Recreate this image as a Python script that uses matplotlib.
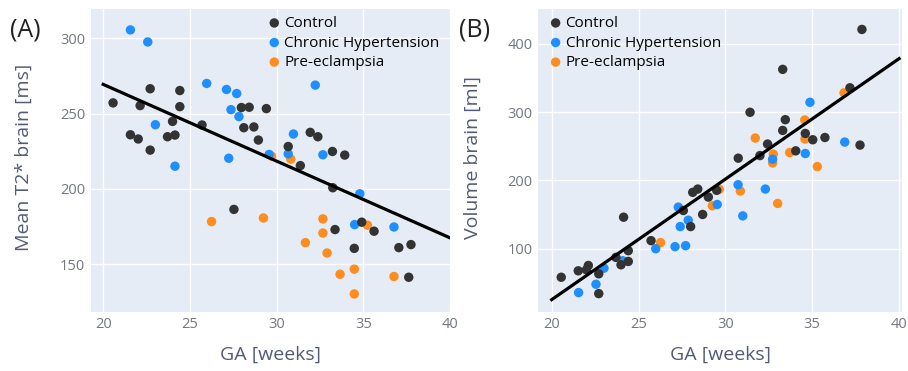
import matplotlib.pyplot as plt

plt.rcParams['font.family'] = ['Open Sans', 'DejaVu Sans']

# --- данные, панель (A): T2* мозга ---
ctrl_ga_a = [20.57, 21.57, 22.02, 22.13, 22.71, 22.71, 23.71, 24.0, 24.14, 24.42, 24.42,
             25.70, 27.54, 27.97, 28.42, 28.11, 28.69, 28.95, 29.41, 30.67, 31.37, 31.94,
             32.38, 33.22, 33.93, 33.24, 33.37, 34.48, 34.91, 35.62, 37.05, 37.75, 37.62]
ctrl_t2 = [257.2, 236.0, 233.2, 255.4, 266.6, 225.8, 234.7, 244.9, 235.8, 265.4, 254.7,
           242.5, 186.4, 254.1, 254.3, 240.7, 241.2, 232.5, 253.4, 228.2, 215.5, 237.6,
           234.7, 224.9, 222.5, 200.8, 173.0, 160.5, 177.9, 171.9, 161.0, 163.0, 141.3]

chtn_ga_a = [21.57, 22.57, 23.01, 24.14, 25.97, 27.11, 27.70, 27.37, 27.83, 27.24,
             29.57, 30.97, 30.67, 32.23, 32.67, 34.80, 34.50, 36.77]
chtn_t2 = [305.7, 297.7, 242.7, 215.1, 270.1, 266.1, 263.4, 252.7, 248.1, 220.4,
           222.9, 236.5, 223.3, 269.0, 222.7, 196.8, 176.3, 174.7]

pe_ga_a = [26.25, 29.71, 30.82, 29.24, 32.67, 32.67, 31.66, 32.91, 33.66, 34.48, 34.48, 35.24, 36.77]
pe_t2 = [178.3, 221.8, 219.8, 180.7, 180.1, 170.7, 164.3, 157.4, 143.3, 146.7, 130.2, 175.9, 141.8]

# --- данные, панель (B): объём мозга ---
ctrl_ga_b = [20.55, 21.53, 22.11, 22.0, 22.71, 22.71, 23.70, 23.99, 24.14, 24.41, 24.41,
             25.72, 27.58, 28.0, 28.12, 28.41, 28.69, 29.02, 29.5, 30.74, 31.42, 31.99,
             32.43, 33.30, 33.45, 33.30, 34.05, 34.6, 35.03, 35.73, 37.17, 37.86, 37.75]
ctrl_vol = [58.7, 68.1, 75.9, 69.6, 63.7, 34.8, 87.7, 76.9, 146.4, 97.5, 81.8,
            112.2, 156.2, 132.7, 182.7, 187.5, 150.4, 175.8, 185.6, 232.6, 299.6, 236.4,
            253.2, 362.3, 288.8, 273.1, 243.3, 268.7, 259.5, 262.8, 335.4, 420.6, 251.7]

chtn_ga_b = [21.55, 22.55, 23.01, 24.09, 25.99, 27.1, 27.71, 27.29, 27.40, 27.86,
             29.53, 30.73, 31.0, 32.30, 32.72, 34.87, 34.6, 36.87]
chtn_vol = [36.3, 48.5, 72.0, 82.8, 100.4, 103.4, 104.8, 161.1, 132.7, 142.0,
            165.0, 193.8, 148.3, 187.5, 231.1, 314.2, 239.4, 256.1]

pe_ga_b = [26.27, 29.25, 29.65, 30.86, 31.72, 32.76, 32.72, 33.01, 33.70, 34.57, 34.58, 35.29, 36.83]
pe_vol = [109.3, 163.0, 187.1, 184.6, 262.0, 238.5, 225.7, 166.5, 240.8, 288.4, 260.5, 220.3, 328.0]

# линии регрессии (концы)
fit_ga = [20, 40]
fit_t2 = [269.5, 167.5]
fit_vol = [26, 378]

labels = ['Control', 'Chronic Hypertension', 'Pre-eclampsia']
colors = ['#333333', '#1f8fff', '#ff8c1f']

BG = '#e5ecf6'
TICK_C = '#737782'
TITLE_C = '#535a76'

fig = plt.figure(figsize=(9.08, 3.71), dpi=100)
ax_a = fig.add_axes([90.7 / 908, 1 - 311.7 / 371, 359.3 / 908, 302.4 / 371])
ax_b = fig.add_axes([538.3 / 908, 1 - 311.7 / 371, 363.4 / 908, 302.4 / 371])


def draw_panel(ax, series, fit_y, xlim, ylim, yticks, ylabel, ylab_x, leg_x):
    ax.set_facecolor(BG)
    for sp in ax.spines.values():
        sp.set_visible(False)
    ax.grid(True, color='white', linewidth=1.0, zorder=0)
    ax.set_axisbelow(True)

    # порядок отрисовки: оранжевые снизу, чёрные сверху
    handles = []
    for (x, y), lab, col, z in zip(series, labels, colors, [4, 3, 2]):
        h = ax.scatter(x, y, s=46, color=col, edgecolors='none', label=lab, zorder=z)
        handles.append(h)
    ax.plot(fit_ga, fit_y, color='black', linewidth=2.3, zorder=5)

    ax.set_xlim(*xlim)
    ax.set_ylim(*ylim)
    ax.set_xticks([20, 25, 30, 35, 40])
    ax.set_yticks(yticks)
    ax.tick_params(length=0, labelsize=10.5, colors=TICK_C, pad=4)
    ax.set_xlabel('GA [weeks]', fontsize=14, color=TITLE_C, labelpad=10)
    ax.set_ylabel(ylabel, fontsize=14, color=TITLE_C)
    ax.yaxis.set_label_coords(ylab_x, 0.51)

    ax.legend(handles=handles, loc='upper left', bbox_to_anchor=(leg_x, 0.978),
              frameon=False, fontsize=11, handlelength=0.7, handletextpad=0.3,
              borderpad=0, borderaxespad=0, labelspacing=0.3, markerscale=1.0)


draw_panel(ax_a, [(ctrl_ga_a, ctrl_t2), (chtn_ga_a, chtn_t2), (pe_ga_a, pe_t2)],
           fit_t2, (19.28, 39.85), (118.4, 319.4), [150, 200, 250, 300],
           'Mean T2* brain [ms]', -0.161, 0.496)
draw_panel(ax_b, [(ctrl_ga_b, ctrl_vol), (chtn_ga_b, chtn_vol), (pe_ga_b, pe_vol)],
           fit_vol, (19.23, 40.15), (8.4, 450), [100, 200, 300, 400],
           'Volume brain [ml]', -0.156, 0.033)

fig.text(10 / 908, 1 - 30 / 371, '(A)', fontsize=18, va='center', ha='left', color='#222222')
fig.text(459 / 908, 1 - 30 / 371, '(B)', fontsize=18, va='center', ha='left', color='#222222')

fig.savefig('out.png', dpi=100, facecolor='white')
